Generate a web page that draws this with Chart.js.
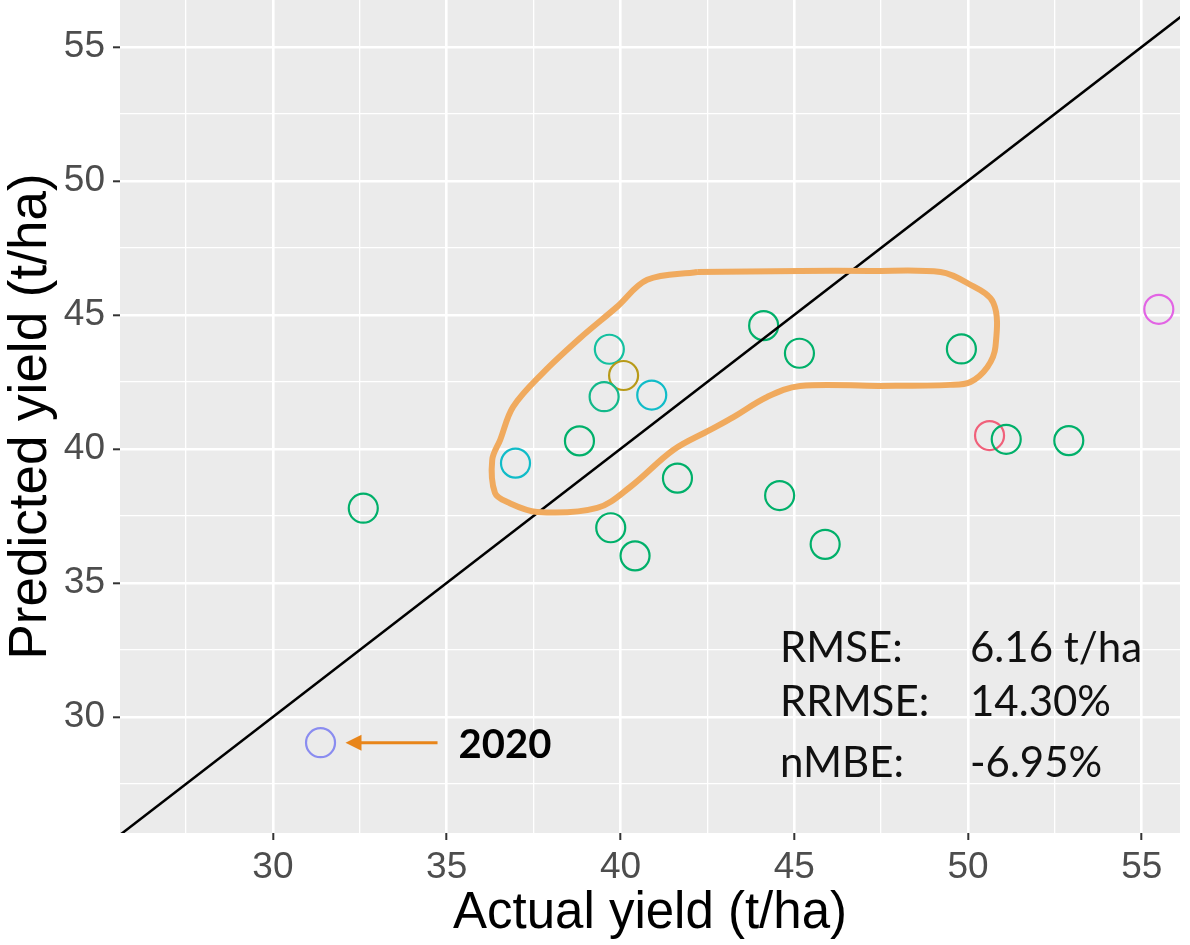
<!DOCTYPE html>
<html>
<head>
<meta charset="utf-8">
<script src="https://cdn.jsdelivr.net/npm/chart.js@4.4.1/dist/chart.umd.min.js"></script>
<style>
  html, body { margin: 0; padding: 0; background: #ffffff; }
</style>
</head>
<body>
<canvas id="grafico" width="1190" height="945"></canvas>
<script>
// rendimento observado x previsto (t/ha), um ponto por ano
const actual    = [31.37, 32.60, 36.98, 38.82, 39.68, 40.09, 39.53, 40.90, 41.64, 39.72,
                   40.42, 44.12, 45.15, 49.81, 55.49, 50.62, 51.10, 52.90, 44.58, 45.89];
const predicted = [29.04, 37.79, 39.47, 40.30, 43.72, 42.74, 41.95, 42.01, 38.91, 37.06,
                   36.01, 44.60, 43.57, 43.73, 45.21, 40.50, 40.36, 40.31, 38.26, 36.44];

// cor de cada ponto
const pointColors = ["#8a8cf0", "#00b06a", "#10bcc8", "#00b06a", "#14c0a0", "#b89a18", "#12b88a",
                     "#10bcc8", "#00b06a", "#00b06a", "#00b06a", "#00b06a", "#00b06a", "#00b06a",
                     "#e264e4", "#f0607a", "#00b06a", "#00b06a", "#00b06a", "#00b06a"];

// marcas dos eixos
const tickValues = [30, 35, 40, 45, 50, 55];
const xLimits = [25.6, 56.1];
const yLimits = [25.67, 56.75];

// contorno desenhado à mão em volta do grupo
const lassoX = [42.21, 45.17, 47.19, 49.21, 49.98, 50.73, 50.79, 50.56, 50.07, 49.49, 47.48, 45.17,
                44.22, 43.25, 42.58, 41.52, 40.28, 39.33, 37.60, 36.74, 36.39, 36.31, 36.54,
                36.91, 37.77, 38.84, 39.90, 40.77, 42.21];
const lassoY = [46.60, 46.64, 46.64, 46.60, 46.19, 45.45, 43.81, 43.06, 42.50, 42.39, 42.35, 42.35,
                41.94, 41.19, 40.71, 39.96, 38.58, 37.80, 37.65, 38.02, 38.36, 39.59, 40.34,
                41.57, 42.84, 44.14, 45.30, 46.31, 46.60];

// métricas de erro
const statNames  = ["RMSE:", "RRMSE:", "nMBE:"];
const statValues = ["6.16 t/ha", "14.30%", "-6.95%"];
const highlightYear = "2020";
const highlightIndex = 0;

const minorTicks = tickValues.map(v => v - 2.5);
const allTicks = minorTicks.concat(tickValues).sort((a, b) => a - b);
const isMajor = v => tickValues.includes(v);
const axisFont = "'Liberation Sans', Arial, sans-serif";

// fundo cinza do painel
const painel = {
    id: 'painel',
    beforeDraw(chart) {
        const { ctx, chartArea: a } = chart;
        ctx.save();
        ctx.fillStyle = '#ffffff';
        ctx.fillRect(0, 0, chart.width, chart.height);
        ctx.fillStyle = '#ebebeb';
        ctx.fillRect(a.left, a.top, a.right - a.left, a.bottom - a.top);
        ctx.restore();
    }
};

// seta do ano destacado e caixa de métricas
const anotacoes = {
    id: 'anotacoes',
    afterDraw(chart) {
        const { ctx, scales: { x, y } } = chart;
        ctx.save();

        // seta
        const px = x.getPixelForValue(actual[highlightIndex]);
        const py = y.getPixelForValue(predicted[highlightIndex]);
        const tip = px + 25;
        ctx.strokeStyle = '#e8851a';
        ctx.fillStyle = '#e8851a';
        ctx.lineWidth = 3;
        ctx.beginPath();
        ctx.moveTo(tip + 10, py);
        ctx.lineTo(px + 117, py);
        ctx.stroke();
        ctx.beginPath();
        ctx.moveTo(tip, py);
        ctx.lineTo(tip + 16, py - 8);
        ctx.lineTo(tip + 16, py + 8);
        ctx.closePath();
        ctx.fill();

        ctx.fillStyle = '#000000';
        ctx.textBaseline = 'alphabetic';
        ctx.font = "bold 40px Lato, 'Open Sans', sans-serif";
        ctx.fillText(highlightYear, px + 138, py + 15);

        // métricas
        ctx.fillStyle = '#111111';
        ctx.font = "42px Lato, 'Open Sans', sans-serif";
        const base = [662, 716, 777];
        statNames.forEach((nome, i) => {
            ctx.fillText(nome, 780, base[i]);
            ctx.fillText(statValues[i], 970, base[i]);
        });
        ctx.restore();
    }
};

function eixo(titulo, ehX) {
    return {
        type: 'linear',
        min: ehX ? xLimits[0] : yLimits[0],
        max: ehX ? xLimits[1] : yLimits[1],
        afterBuildTicks: axis => { axis.ticks = allTicks.map(v => ({ value: v })); },
        afterFit: scale => {
            if (ehX) scale.height = 112; else scale.width = 120;
            // sem folga extra nas pontas do painel
            scale.paddingTop = 0;
            scale.paddingBottom = 0;
            scale.paddingLeft = 0;
            scale.paddingRight = 0;
        },
        border: { display: false },
        grid: {
            color: '#ffffff',
            lineWidth: c => isMajor(c.tick.value) ? 2.6 : 1.3,
            tickColor: c => isMajor(c.tick.value) ? '#333333' : 'rgba(0,0,0,0)',
            tickLength: 7,
            tickWidth: 2
        },
        ticks: {
            autoSkip: false,
            maxRotation: 0,
            padding: ehX ? 6 : 8,
            color: '#4d4d4d',
            font: { family: axisFont, size: 37 },
            callback: v => isMajor(v) ? String(v) : ''
        },
        title: {
            display: true,
            text: titulo,
            color: '#000000',
            font: { family: axisFont, size: ehX ? 51 : 53 },
            padding: ehX ? { top: 0, bottom: 0 } : { top: 0, bottom: 0 }
        }
    };
}

const ctx = document.querySelector('#grafico');

new Chart(ctx, {
    type: 'scatter',
    data: {
        datasets: [
            {
                // contorno laranja
                type: 'line',
                data: lassoX.map((v, i) => ({ x: v, y: lassoY[i] })),
                borderColor: '#f0aa5e',
                borderWidth: 6,
                pointRadius: 0,
                tension: 0.35,
                fill: false,
                order: 0
            },
            {
                // linha 1:1
                type: 'line',
                data: [{ x: xLimits[0], y: xLimits[0] }, { x: yLimits[1], y: yLimits[1] }],
                borderColor: '#000000',
                borderWidth: 2.5,
                pointRadius: 0,
                fill: false,
                order: 1
            },
            {
                type: 'scatter',
                data: actual.map((v, i) => ({ x: v, y: predicted[i] })),
                pointStyle: 'circle',
                pointRadius: 14.5,
                borderWidth: 2.2,
                borderColor: pointColors,
                backgroundColor: 'rgba(0,0,0,0)',
                order: 2
            }
        ]
    },
    options: {
        responsive: false,
        animation: false,
        layout: { autoPadding: false, padding: { top: 0, right: 10, bottom: 0, left: 0 } },
        scales: {
            x: eixo('Actual yield (t/ha)', true),
            y: eixo('Predicted yield (t/ha)', false)
        },
        plugins: {
            legend: { display: false },
            tooltip: { enabled: false }
        }
    },
    plugins: [painel, anotacoes]
});
</script>
</body>
</html>
